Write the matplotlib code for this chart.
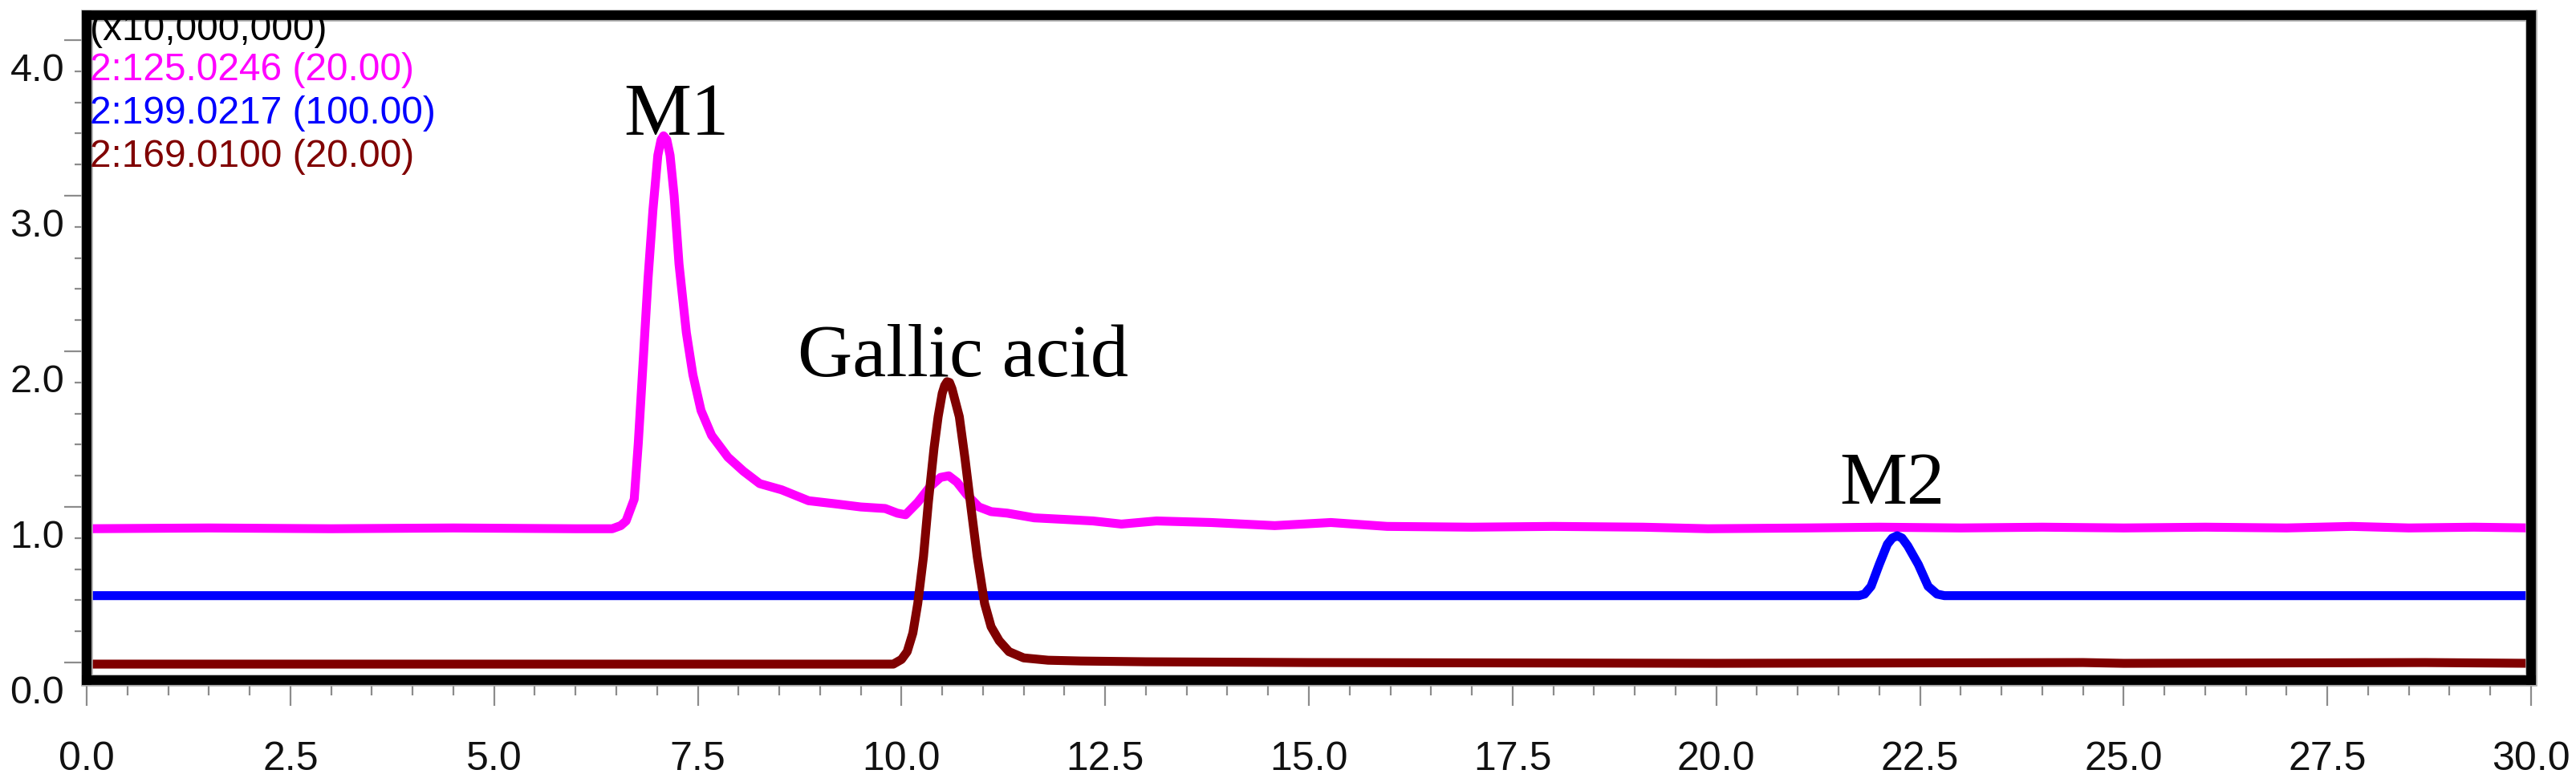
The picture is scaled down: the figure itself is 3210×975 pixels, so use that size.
import numpy as np
import matplotlib
matplotlib.use('Agg')
import matplotlib.pyplot as plt
from matplotlib.patches import Rectangle
from matplotlib.ticker import MultipleLocator, FixedLocator

# retention time (min) and intensity (x10,000,000)
t_125 = [0.0, 1.5, 3.0, 4.5, 6.0, 6.45, 6.555, 6.62, 6.72, 6.77, 6.82, 6.89, 6.95, 7.01,
         7.05, 7.08, 7.12, 7.16, 7.21, 7.27, 7.36, 7.44, 7.54, 7.67, 7.87, 8.06, 8.26,
         8.53, 8.86, 9.19, 9.5, 9.8, 9.95, 10.05, 10.2, 10.35, 10.48, 10.58,
         10.68, 10.8, 10.95, 11.1, 11.3, 11.63, 12.0, 12.35, 12.7, 13.13, 13.8, 14.58,
         15.27, 15.96, 17.0, 18.0, 19.1, 19.9, 21.1, 22.0, 23.0, 24.0, 25.0, 26.0,
         27.0, 27.8, 28.5, 29.3, 30.0]
i_125 = [1.03, 1.035, 1.03, 1.035, 1.03, 1.03, 1.05, 1.08, 1.22, 1.58, 2.02, 2.64, 3.08, 3.43,
         3.53, 3.555, 3.53, 3.43, 3.17, 2.73, 2.29, 2.02, 1.79, 1.63, 1.49, 1.40, 1.32,
         1.28, 1.21, 1.19, 1.17, 1.16, 1.13, 1.12, 1.20, 1.30, 1.36, 1.37,
         1.33, 1.25, 1.17, 1.14, 1.13, 1.10, 1.09, 1.08, 1.06, 1.08, 1.07, 1.05,
         1.07, 1.045, 1.04, 1.045, 1.04, 1.03, 1.035, 1.04, 1.035, 1.04, 1.035, 1.04,
         1.035, 1.045, 1.035, 1.04, 1.035]

t_199 = [0.0, 10.0, 20.0, 21.75, 21.82, 21.9, 22.0, 22.1, 22.16, 22.22, 22.28, 22.35,
         22.48, 22.6, 22.71, 22.8, 30.0]
i_199 = [0.60, 0.60, 0.60, 0.60, 0.61, 0.66, 0.80, 0.93, 0.97, 0.985, 0.97, 0.92,
         0.80, 0.66, 0.61, 0.60, 0.60]

t_169 = [0.0, 5.0, 9.9, 10.0, 10.07, 10.14, 10.2, 10.27, 10.33, 10.4, 10.45, 10.5,
         10.53, 10.56, 10.59, 10.62, 10.71, 10.78, 10.85, 10.93, 11.02, 11.1, 11.2,
         11.32, 11.5, 11.8, 12.2, 13.0, 15.0, 20.0, 24.5, 25.0, 28.7, 30.0]
i_169 = [0.16, 0.16, 0.16, 0.19, 0.24, 0.36, 0.55, 0.85, 1.20, 1.55, 1.75, 1.90,
         1.95, 1.975, 1.97, 1.93, 1.75, 1.48, 1.18, 0.85, 0.55, 0.40, 0.31,
         0.24, 0.20, 0.185, 0.18, 0.175, 0.17, 0.165, 0.17, 0.165, 0.17, 0.165]

traces = [
    ('2:125.0246 (20.00)', t_125, i_125, '#ff00ff'),
    ('2:199.0217 (100.00)', t_199, i_199, '#0000ff'),
    ('2:169.0100 (20.00)', t_169, i_169, '#800000'),
]

peak_names = ['M1', 'Gallic acid', 'M2']
peak_x = [7.24, 10.76, 22.16]
peak_y = [3.56, 2.01, 1.19]

W, H = 3210, 975
fig = plt.figure(figsize=(W / 100, H / 100), dpi=100)
ax = fig.add_axes([108 / W, 1 - 848 / H, (3154 - 108) / W, (848 - 19) / H])

for name, t, y, c in traces:
    ax.plot(t, y, color=c, lw=8, solid_capstyle='butt', solid_joinstyle='round', zorder=2)

ax.set_xlim(0, 30)
ax.set_ylim(0.057, 4.33)

# frame
for s in ax.spines.values():
    s.set_linewidth(8.5)
    s.set_color('black')
    s.set_zorder(3)
ax.add_patch(Rectangle((0, 0), 1, 1, transform=ax.transAxes, fill=False,
                       edgecolor='#a8a8a8', lw=10.5, clip_on=False, zorder=2.9))

# x axis
ax.xaxis.set_minor_locator(MultipleLocator(0.5))
ax.set_xticks(np.arange(0, 30.1, 2.5))
ax.set_xticklabels(['%.1f' % v for v in np.arange(0, 30.1, 2.5)],
                   fontfamily='Liberation Sans', fontsize=36, color='#111111')
ax.tick_params(axis='x', which='major', length=23, width=1.6, color='#8c8c8c', pad=32)
ax.tick_params(axis='x', which='minor', length=13.5, width=1.6, color='#8c8c8c')

# y axis: long ticks sit a little above the labelled values
off = 0.17
ax.yaxis.set_major_locator(FixedLocator([k + off for k in range(5)]))
ax.yaxis.set_minor_locator(FixedLocator([off + 0.2 * j for j in range(22)]))
ax.tick_params(axis='y', which='major', length=20, width=1.6, color='#8c8c8c', labelleft=False)
ax.tick_params(axis='y', which='minor', length=11, width=1.6, color='#8c8c8c')

ylab_vals = [0, 1, 2, 3, 4]
for v in ylab_vals:
    ax.annotate('%.1f' % v, xy=(0, v), xycoords=('axes fraction', 'data'),
                xytext=(-20, 0), textcoords='offset points', ha='right',
                va='center_baseline', fontfamily='Liberation Sans', fontsize=35,
                color='#111111', annotation_clip=False)

# header and trace labels
fig.text(112 / W, 1 - 38 / H, '(x10,000,000)', fontfamily='Liberation Sans', fontsize=34.5,
         color='black', va='center', ha='left')
for n, (name, t, y, c) in enumerate(traces):
    fig.text(112 / W, 1 - (88 + 54 * n) / H, name, fontfamily='Liberation Sans', fontsize=34.5,
             color=c, va='center', ha='left')

for name, x, y in zip(peak_names, peak_x, peak_y):
    ax.text(x, y, name, fontfamily='Liberation Serif', fontsize=68, ha='center',
            va='baseline', color='black', zorder=4)

fig.savefig('out.png', dpi=100, facecolor='white')
